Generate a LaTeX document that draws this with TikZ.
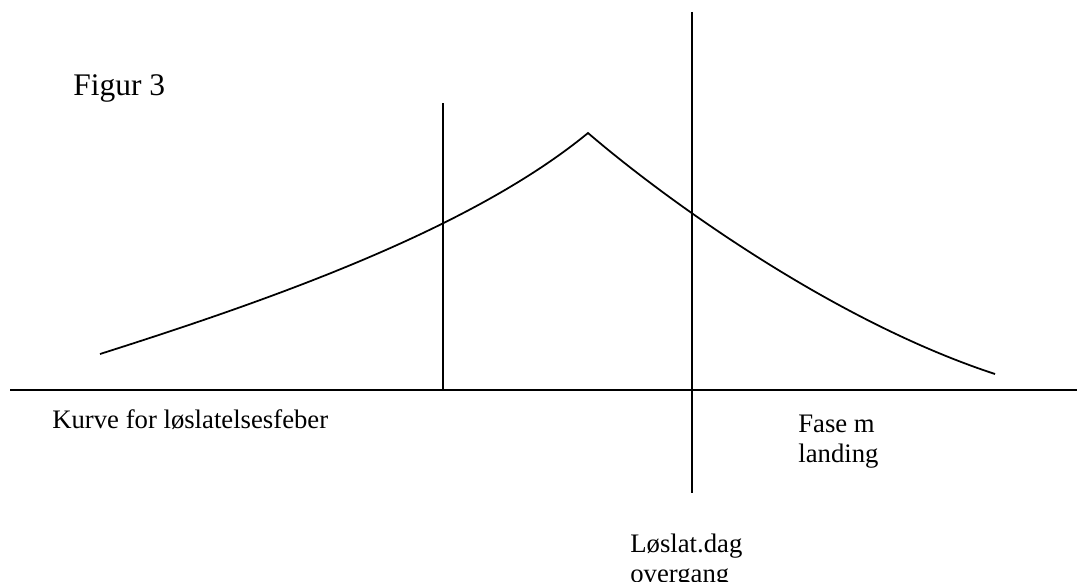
\documentclass[tikz,border=0pt]{standalone}
\usepackage{fontspec}
\setmainfont{Liberation Serif}
\usetikzlibrary{positioning}

\begin{document}
\begin{tikzpicture}[
    x=0.02cm, y=-0.02cm,
    ln/.style={line width=1pt, black},
    lbl/.style={anchor=base west, inner sep=0pt, align=left,
        font=\fontsize{15.2}{17}\selectfont},
    ttl/.style={anchor=base west, inner sep=0pt,
        font=\fontsize{17.9}{21}\selectfont}
  ]
  \useasboundingbox (0,0) rectangle (1077,581);
  % akse og skillelinjer
  \draw[ln] (10,390) -- (1077,390);
  \draw[ln] (443,103) -- (443,390);
  \draw[ln] (692,12) -- (692,493);
  % kurve
  \coordinate (topp) at (588,133);
  \draw[ln] (100,354) .. controls (270,300) and (470,230) .. (topp)
    .. controls (660,195) and (830,320) .. (995,374);
  % tekster (base = siste linje)
  \node[ttl] (fig) at (73,95) {Figur 3};
  \node[lbl] (kurve) at (52,428) {Kurve for løslatelsesfeber};
  \node[lbl] (fase) at (798,462) {Fase m\\landing};
  \node[lbl] (dag) at (630,582) {Løslat.dag\\overgang};
\end{tikzpicture}
\end{document}
